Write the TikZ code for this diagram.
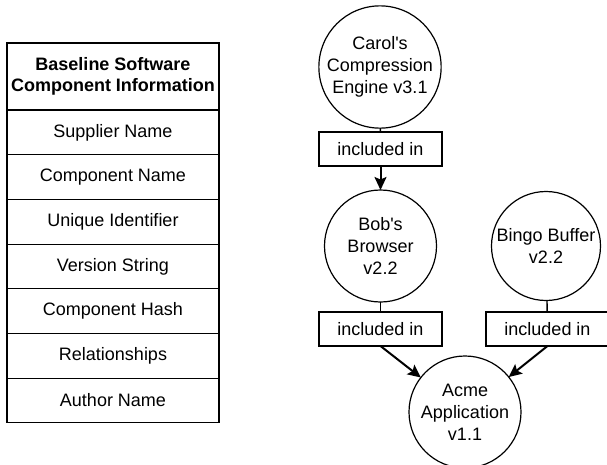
\documentclass[tikz,border=0pt]{standalone}
\usepackage{fontspec}
\setmainfont{Liberation Sans}
\usetikzlibrary{arrows.meta}
\newcommand{\apos}{\textquotesingle}
\begin{document}
\begin{tikzpicture}[x=1pt,y=-1pt,
  every node/.style={font=\fontsize{18}{22}\selectfont, inner sep=0pt, outer sep=0pt},
  cell/.style={draw, line width=1.1pt, minimum width=212pt, minimum height=44.7pt, align=center, anchor=north},
  comp/.style={draw, line width=1.2pt, circle, align=center},
  rel/.style={draw, line width=1.2pt, minimum width=123pt, minimum height=34pt},
  link/.style={line width=1.4pt},
  incl/.style={line width=2pt, -{Stealth[length=13pt,width=12pt,inset=2.5pt]}}]
\useasboundingbox (0,0) rectangle (607,465);
% table
\node[cell, minimum height=67pt, font=\fontsize{18}{21}\selectfont\bfseries] (h) at (113,43) {Baseline Software\\Component Information};
\node[cell] (r1) at (h.south) {Supplier Name};
\node[cell] (r2) at (r1.south) {Component Name};
\node[cell] (r3) at (r2.south) {Unique Identifier};
\node[cell] (r4) at (r3.south) {Version String};
\node[cell] (r5) at (r4.south) {Component Hash};
\node[cell] (r6) at (r5.south) {Relationships};
\node[cell] (r7) at (r6.south) {Author Name};
% graph
\node[comp, minimum size=109pt] (carol) at (380,67) {Carol\apos s\\Compression\\Engine v3.1};
\node[rel] (b1) at (380.5,149) {included in};
\node[comp, minimum size=112pt] (bob) at (380.5,246) {Bob\apos s\\Browser\\v2.2};
\node[comp, minimum size=109pt] (bingo) at (546,246) {Bingo Buffer\\v2.2};
\node[rel] (b2) at (380.5,329) {included in};
\node[rel] (b3) at (547.5,329) {included in};
\node[comp, minimum size=112pt] (acme) at (465,412) {Acme\\Application\\v1.1};
\draw[link] (carol) -- (b1);
\draw[incl] (b1) -- (bob);
\draw[link] (bob) -- (b2);
\draw[link] (bingo) -- (b3);
\draw[incl] (b2.south) -- (acme);
\draw[incl] (b3.south) -- (acme);
\end{tikzpicture}
\end{document}
